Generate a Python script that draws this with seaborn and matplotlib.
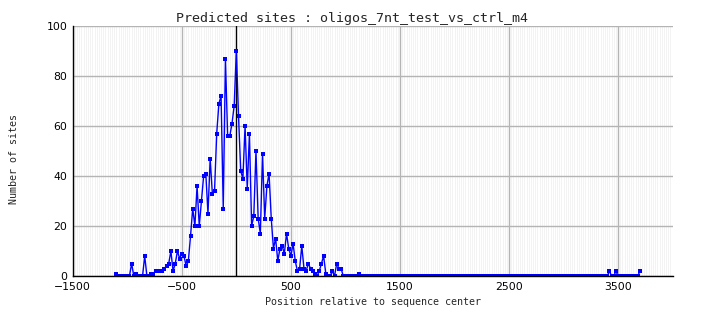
import matplotlib
matplotlib.use("Agg")
import matplotlib.pyplot as plt
from matplotlib.ticker import MultipleLocator
import numpy as np
import pandas as pd
import seaborn as sns

# Predicted sites per 20 bp bin, first bin at -1100
bin_start = -1100
bin_width = 20
sites = [
    1, 0, 0, 0, 0, 0, 0, 5, 0, 1,
    0, 0, 0, 8, 0, 0, 1, 1, 2, 2,
    2, 2, 3, 4, 5, 10, 2, 5, 10, 7,
    9, 8, 4, 6, 16, 27, 20, 36, 20, 30,
    40, 41, 25, 47, 33, 34, 57, 69, 72, 27,
    87, 56, 56, 61, 68, 90, 64, 42, 39, 60,
    35, 57, 20, 24, 50, 23, 17, 49, 23, 36,
    41, 23, 11, 15, 6, 11, 12, 9, 17, 11,
    8, 13, 6, 2, 3, 12, 3, 2, 5, 3,
    2, 1, 0, 2, 5, 8, 1, 0, 0, 2,
    0, 5, 3, 3, 0, 0, 0, 0, 0, 0,
    0, 1, 0, 0, 0, 0, 0, 0, 0, 0,
    0, 0, 0, 0, 0, 0, 0, 0, 0, 0,
    0, 0, 0, 0, 0, 0, 0, 0, 0, 0,
    0, 0, 0, 0, 0, 0, 0, 0, 0, 0,
    0, 0, 0, 0, 0, 0, 0, 0, 0, 0,
    0, 0, 0, 0, 0, 0, 0, 0, 0, 0,
    0, 0, 0, 0, 0, 0, 0, 0, 0, 0,
    0, 0, 0, 0, 0, 0, 0, 0, 0, 0,
    0, 0, 0, 0, 0, 0, 0, 0, 0, 0,
    0, 0, 0, 0, 0, 0, 0, 0, 0, 0,
    0, 0, 0, 0, 0, 0, 0, 0, 0, 0,
    0, 0, 0, 0, 0, 0, 2, 0, 0, 2,
    0, 0, 0, 0, 0, 0, 0, 0, 0, 0,
    2,
]
x_ticks = [-1500, -500, 500, 1500, 2500, 3500]
y_ticks = [0, 20, 40, 60, 80, 100]

df = pd.DataFrame({
    "pos": bin_start + bin_width * np.arange(len(sites)),
    "sites": sites,
})

sns.set_style("white")
plt.rcParams["font.family"] = ["DejaVu Sans"]

fig = plt.figure(figsize=(7.04, 3.28), dpi=100)
ax = fig.add_axes([0.1033, 0.1585, 0.8522, 0.7622])

# dense light minor grid, grey major grid
ax.xaxis.set_minor_locator(MultipleLocator(20))
ax.grid(True, which="minor", axis="x", color="#f1f1f1", linewidth=0.6, zorder=0)
ax.grid(True, which="major", color="#b4b4b4", linewidth=1.0, zorder=1)
ax.set_axisbelow(True)

ax.axvline(0, color="black", linewidth=1.0, zorder=2)

sns.lineplot(data=df, x="pos", y="sites", ax=ax, color="#0000ff",
             linewidth=1.0, marker="s", markersize=3.2, markeredgewidth=0,
             zorder=3)

ax.set_xlim(-1500, 4000)
ax.set_ylim(0, 100)
ax.set_xticks(x_ticks)
ax.set_yticks(y_ticks)
ax.tick_params(which="both", length=0, labelsize=7.8, pad=4, colors="black")

for side in ["top", "right"]:
    ax.spines[side].set_visible(False)
for side in ["left", "bottom"]:
    ax.spines[side].set_color("black")
    ax.spines[side].set_linewidth(1.0)
    ax.spines[side].set_zorder(4)

mono = ["DejaVu Sans Mono"]
ax.set_xlabel("Position relative to sequence center", family=mono, fontsize=7.2)
ax.set_ylabel("Number of sites", family=mono, fontsize=7.2)
ax.xaxis.set_label_coords(0.5, -0.085)
ax.yaxis.set_label_coords(-0.09, 0.47)

fig.text(0.5, 0.945, "Predicted sites : oligos_7nt_test_vs_ctrl_m4",
         family=mono, fontsize=9.6, ha="center", va="center")

fig.savefig("out.png", dpi=100, facecolor="white")
